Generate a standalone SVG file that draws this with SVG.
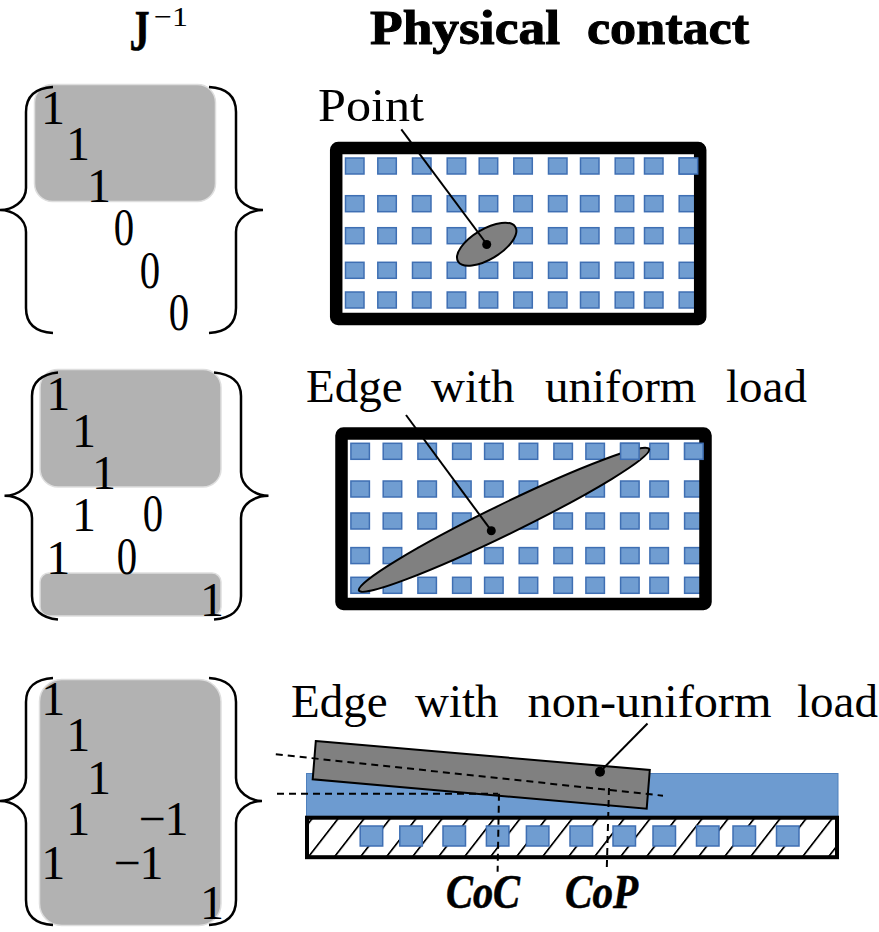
<svg xmlns="http://www.w3.org/2000/svg" xmlns:xlink="http://www.w3.org/1999/xlink" width="879" height="932" viewBox="0 0 879 932">
<style>
text{font-family:"Liberation Serif","Times New Roman",serif;fill:#000}
.d{font-size:48px;text-anchor:middle}
.t{font-size:47px}
.h{font-size:49px;font-weight:bold;stroke:#000;stroke-width:1px}
.c{font-size:48px;font-weight:bold;font-style:italic;stroke:#000;stroke-width:.6px}
.g{fill:#b2b2b2;stroke:#dedede;stroke-width:1.5}
.b{fill:none;stroke:#000;stroke-width:2.5}
.s{fill:#709dd1;stroke:#3f6fb3;stroke-width:1.5}
.f{fill:none;stroke:#000;stroke-width:12.5;stroke-linejoin:round}
.e{fill:#808080;stroke:#000;stroke-width:2}
.l{fill:none;stroke:#000;stroke-width:2}
.k{fill:none;stroke:#000;stroke-width:2;stroke-dasharray:7 5}
</style>
<defs>
<g id="row">
<rect class="s" x="345.5" y="0" width="18.5" height="16"/><rect class="s" x="377.8" y="0" width="18.5" height="16"/><rect class="s" x="412.5" y="0" width="18.5" height="16"/><rect class="s" x="447.2" y="0" width="18.5" height="16"/><rect class="s" x="479.2" y="0" width="18.5" height="16"/><rect class="s" x="513.8" y="0" width="18.5" height="16"/><rect class="s" x="548.5" y="0" width="18.5" height="16"/><rect class="s" x="580.5" y="0" width="18.5" height="16"/><rect class="s" x="615.2" y="0" width="18.5" height="16"/><rect class="s" x="644.5" y="0" width="18.5" height="16"/><rect class="s" x="679.2" y="0" width="18.5" height="16"/>
</g>
<pattern id="hatch" patternUnits="userSpaceOnUse" width="26" height="40" patternTransform="skewX(-37.8)"><rect x="10" y="0" width="2.2" height="40" fill="#000"/></pattern>
</defs>
<rect width="879" height="932" fill="#fff"/>

<g id="title-j">
<text transform="translate(129.5,50) scale(.72,1)" font-size="56" font-weight="bold" stroke="#000" stroke-width=".6">J</text>
<text x="154" y="26" font-size="28" textLength="34" lengthAdjust="spacingAndGlyphs">−1</text>
</g>
<text id="title-contact" class="h" y="44"><tspan x="370" textLength="190" lengthAdjust="spacingAndGlyphs">Physical</tspan> <tspan x="587" textLength="162" lengthAdjust="spacingAndGlyphs">contact</tspan></text>

<g id="matrix-1">
<rect class="g" x="34.5" y="84.5" width="181" height="117" rx="18"/>
<path class="b" d="M53 87C36 88 26 96 26 112V188C26 202 12 210 0 210C12 210 26 218 26 232V308C26 324 36 332 53 333"/>
<path class="b" d="M209 87C226 88 236 96 236 112V188C236 202 250 210 263 210C250 210 236 218 236 232V308C236 324 226 332 209 333"/>
<text class="d" x="53" y="124">1</text><text class="d" x="78" y="160">1</text><text class="d" x="99" y="202">1</text>
<text class="d" transform="translate(124,245) scale(.85,1.08)">0</text><text class="d" transform="translate(150,288) scale(.85,1.08)">0</text><text class="d" transform="translate(179,330) scale(.85,1.08)">0</text>
</g>

<g id="contact-point">
<use xlink:href="#row" href="#row" y="158"/><use xlink:href="#row" href="#row" y="195.7"/><use xlink:href="#row" href="#row" y="227.7"/><use xlink:href="#row" href="#row" y="262.3"/><use xlink:href="#row" href="#row" y="292"/>
<ellipse class="e" cx="486.7" cy="244.2" rx="33.4" ry="15" transform="rotate(-31 486.7 244.2)"/>
<rect class="f" x="336.2" y="148" width="364" height="171" rx="2"/>
<rect class="s" x="679.2" y="158" width="18.5" height="16"/>
<text class="t" x="318" y="121" textLength="106" lengthAdjust="spacingAndGlyphs">Point</text>
</g>

<g id="matrix-2">
<rect class="g" x="40" y="369.5" width="181" height="117.5" rx="18"/>
<rect class="g" x="40" y="573" width="181" height="43" rx="9"/>
<path class="b" d="M58 372.5C42 374 32 382 32 396V472C32 486 18 495.7 4.5 495.7C18 495.7 32 504 32 518V596C32 610 42 618 58 619.5"/>
<path class="b" d="M214 372.5C231 374 241 382 241 396V472C241 486 255 495.7 268.5 495.7C255 495.7 241 504 241 518V596C241 610 231 618 214 619.5"/>
<text class="d" x="58.3" y="410">1</text><text class="d" x="84" y="447">1</text><text class="d" x="104" y="489">1</text><text class="d" x="84" y="531">1</text>
<text class="d" transform="translate(153,531) scale(.85,1.08)">0</text>
<text class="d" x="58.3" y="573.5">1</text>
<text class="d" transform="translate(127,574) scale(.85,1.08)">0</text>
<text class="d" x="212" y="616">1</text>
</g>

<g id="contact-edge-uniform">
<g transform="translate(5.4,285.3)"><use xlink:href="#row" href="#row" y="158"/><use xlink:href="#row" href="#row" y="195.7"/><use xlink:href="#row" href="#row" y="227.7"/><use xlink:href="#row" href="#row" y="262.3"/><use xlink:href="#row" href="#row" y="292"/></g>
<ellipse class="e" cx="504" cy="519.8" rx="161.4" ry="15" transform="rotate(-26 504 519.8)"/>
<rect class="f" x="341.5" y="433.5" width="364" height="170.5" rx="2"/>
<rect class="s" x="620.6" y="443.3" width="18.5" height="16"/>
<rect class="s" x="684.6" y="443.3" width="18.5" height="16"/>
<text class="t" y="401.7"><tspan x="306">Edge</tspan> <tspan x="431">with</tspan> <tspan x="545">uniform</tspan> <tspan x="726">load</tspan></text>
</g>

<g id="matrix-3">
<rect class="g" x="39.5" y="679.5" width="181.5" height="246" rx="22"/>
<path class="b" d="M53 678C36 679 26 687 26 702V778C26 792 12 801 0 801C12 801 26 809 26 823V900C26 916 36 924 53 925"/>
<path class="b" d="M209 678C226 679 236 687 236 702V778C236 792 250 801 262 801C250 801 236 809 236 823V900C236 916 226 924 209 925"/>
<text class="d" x="53.3" y="714.5">1</text><text class="d" x="78.3" y="751">1</text><text class="d" x="99" y="793.5">1</text><text class="d" x="78.3" y="835">1</text>
<text x="138.5" y="835" font-size="48" textLength="50" lengthAdjust="spacing">−1</text>
<text class="d" x="53.3" y="878.5">1</text>
<text x="113.5" y="878.5" font-size="48" textLength="50" lengthAdjust="spacing">−1</text>
<text class="d" x="212" y="919">1</text>
</g>

<g id="contact-edge-nonuniform">
<rect x="306.5" y="773.5" width="531.5" height="43" fill="#6d9bd0" stroke="#4f80bd" stroke-width="1"/>
<rect x="307" y="817.7" width="530" height="39.5" fill="#fff"/>
<rect x="307" y="817.7" width="530" height="39.5" fill="url(#hatch)"/>
<rect x="307" y="817.7" width="530" height="39.5" fill="none" stroke="#000" stroke-width="4"/>
<rect class="s" x="360.2" y="826" width="22.5" height="20"/><rect class="s" x="399.8" y="826" width="22.5" height="20"/><rect class="s" x="443" y="826" width="22.5" height="20"/><rect class="s" x="486.4" y="826" width="22.5" height="20"/><rect class="s" x="526.4" y="826" width="22.5" height="20"/><rect class="s" x="570" y="826" width="22.5" height="20"/><rect class="s" x="613" y="826" width="22.5" height="20"/><rect class="s" x="653" y="826" width="22.5" height="20"/><rect class="s" x="696.5" y="826" width="22.5" height="20"/><rect class="s" x="733" y="826" width="22.5" height="20"/><rect class="s" x="776.5" y="826" width="22.5" height="20"/>
<polygon class="e" points="315.8,741 649.8,770 646.7,808.7 312.7,779.3"/>
<text class="t" y="716.7"><tspan x="291">Edge</tspan> <tspan x="415">with</tspan> <tspan x="527.5" textLength="244" lengthAdjust="spacingAndGlyphs">non-uniform</tspan> <tspan x="797">load</tspan></text>
<text class="c" x="446" y="908" textLength="74" lengthAdjust="spacingAndGlyphs">CoC</text>
<text class="c" x="565" y="908" textLength="73" lengthAdjust="spacingAndGlyphs">CoP</text>
</g>

<g id="connectors">
<line class="l" x1="401.3" y1="129.3" x2="486.7" y2="244"/><circle cx="486.7" cy="244.5" r="4.5"/>
<line class="l" x1="406" y1="415" x2="491.3" y2="530.7"/><circle cx="491.3" cy="530.7" r="4.5"/>
<line class="l" x1="647.5" y1="723.5" x2="600" y2="771.7"/><circle cx="600" cy="771.7" r="5"/>
<line class="k" x1="275.8" y1="754.3" x2="663" y2="795.7"/>
<line class="k" x1="277" y1="793.7" x2="498" y2="793.7"/>
<line class="k" x1="499" y1="793.7" x2="497.6" y2="871.7"/>
<line class="k" x1="609" y1="788" x2="606.7" y2="871.7"/>
</g>
</svg>
